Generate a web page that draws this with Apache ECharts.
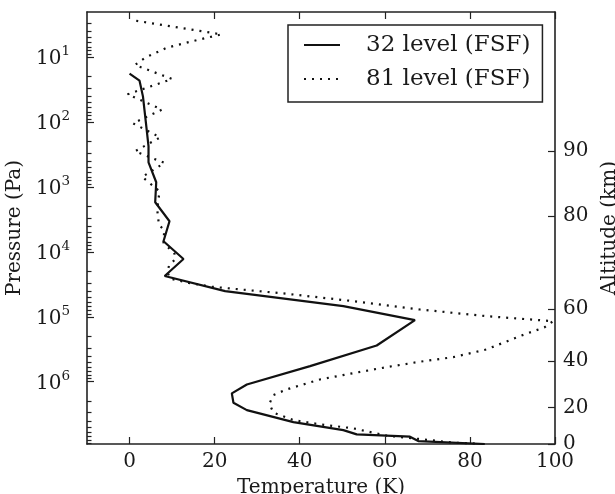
<!DOCTYPE html>
<html>
<head>
<meta charset="utf-8">
<script src="https://cdn.jsdelivr.net/npm/echarts@6/dist/echarts.min.js"></script>
<style>html,body{margin:0;padding:0;background:#fff}#c{width:615px;height:494px}</style>
</head>
<body>
<div id="c"></div>
<script>
// ---- data ----
const tempTicks = [0, 20, 40, 60, 80, 100];
const pressureExponents = [1, 2, 3, 4, 5, 6];
const altitudeKm = [0, 20, 40, 60, 80, 90];
const altitudePa = [9.1e6, 2.48e6, 4.82e5, 7.53e4, 2830, 283];
const pTop = 2.03, pBottom = 9.1e6;

const t32 = [0, 2.35, 3.15, 3.85, 4.46, 4.46, 6.27, 6.03, 9.39, 7.98, 12.68, 8.26, 22.47, 50.25, 67.08, 58.09, 42.43, 27.57, 24.04, 24.42, 27.57, 38.51, 50.25, 53.39, 65.91, 67.86, 83.5];
const p32 = [18.1, 23.2, 40.4, 103.5, 237, 419, 849, 1726, 3381, 6871, 12910, 23550, 40360, 68710, 112700, 276700, 575400, 1102000, 1514000, 2104000, 2735000, 4188000, 5559000, 6471000, 7015000, 8204000, 9100000];

const t81 = [1.57, 21.6, 15.97, 8.78, 3.62, 1.27, 10.03, -0.47, 7.61, 0.8, 7.21, 1.27, 8.22, 2.98, 7.04, 6.5, 6.9, 8.15, 7.98, 10.57, 10.73, 9.39, 8.85, 9.56, 13.85, 19.35, 36.96, 52.59, 68.26, 83.92, 99.55, 97.6, 91.74, 83.92, 76.07, 68.26, 60.44, 52.59, 44.78, 36.96, 33.81, 32.87, 33.81, 38.51, 44.78, 52.59, 60.44, 66.68, 76.07, 82.3];
const p81 = [2.77, 4.49, 5.47, 7.19, 10.3, 13.3, 21.8, 37.6, 64.7, 105, 173, 283, 428, 701, 1170, 2230, 3800, 4700, 7240, 10740, 13120, 15670, 20090, 26000, 30000, 34510, 44260, 57540, 77270, 97950, 117000, 144500, 198600, 318400, 418800, 492000, 595700, 738000, 922600, 1312000, 1607000, 2178000, 3000000, 3899000, 4539000, 5224000, 6776000, 7447000, 8670000, 8995000];

const seriesNames = ['32 level (FSF)', '81 level (FSF)'];

// ---- build ----
const lg = Math.log10;
const yMin = lg(pTop), yMax = lg(pBottom);
const minorVals = [];
for (let n = 0; n <= 6; n++) for (let k = 2; k <= 9; k++) {
  const v = lg(k * Math.pow(10, n));
  if (v >= yMin && v <= yMax) minorVals.push(v);
}
const altVals = altitudePa.map(p => lg(p));
const FONT = 'DejaVu Serif';
const FS = 20;
const LFS = 23;
const TXT = '#1a1a1a';
const AX = { lineStyle: { color: '#222', width: 1.6 } };
const TK = { color: '#222', width: 1.2 };
const GRID = { left: 87, right: 60, top: 12, bottom: 50, containLabel: false, outerBoundsMode: 'none' };

const option = {
  animation: false,
  textStyle: { fontFamily: FONT, color: TXT },
  grid: [ { ...GRID }, { ...GRID } ],
  legend: {
    left: 288, top: 25, orient: 'vertical',
    borderColor: '#222', borderWidth: 1.5, borderRadius: 0,
    padding: [8, 12, 11, 15],
    itemWidth: 36, itemHeight: 24, itemGap: 10,
    itemStyle: { opacity: 0 },
    textStyle: { fontFamily: FONT, fontSize: LFS, lineHeight: 24, color: TXT, padding: [0, 0, 0, 21] },
    data: seriesNames
  },
  xAxis: [
    {
      type: 'value', gridIndex: 0, min: -10, max: 100, position: 'bottom',
      name: 'Temperature (K)', nameLocation: 'middle', nameGap: 34,
      nameTextStyle: { fontFamily: FONT, fontSize: FS, color: TXT },
      axisLine: { show: true, onZero: false, ...AX },
      splitLine: { show: false },
      axisTick: { show: true, inside: true, length: 7, customValues: tempTicks, lineStyle: TK },
      axisLabel: { customValues: tempTicks, fontFamily: FONT, fontSize: FS, color: TXT, margin: 8 }
    },
    {
      type: 'value', gridIndex: 0, min: -10, max: 100, position: 'top',
      axisLine: { show: true, onZero: false, ...AX },
      splitLine: { show: false },
      axisTick: { show: true, inside: true, length: 7, customValues: tempTicks, lineStyle: TK },
      axisLabel: { show: false }
    },
    {
      type: 'value', gridIndex: 1, min: -10, max: 100, position: 'bottom',
      axisLine: { show: false, onZero: false }, axisTick: { show: false },
      axisLabel: { show: false }, splitLine: { show: false }
    }
  ],
  yAxis: [
    {
      type: 'value', gridIndex: 0, inverse: true, min: yMin, max: yMax, position: 'left',
      name: 'Pressure (Pa)', nameLocation: 'middle', nameGap: 51, nameRotate: 90,
      nameTextStyle: { fontFamily: FONT, fontSize: FS, color: TXT },
      axisLine: { show: true, onZero: false, ...AX },
      splitLine: { show: false },
      axisTick: { show: true, inside: true, length: 7, customValues: pressureExponents, lineStyle: TK },
      axisLabel: {
        customValues: pressureExponents, margin: 17, fontFamily: FONT, color: TXT,
        formatter: v => '{b|10}{s|' + Math.round(v) + '}',
        rich: {
          b: { fontFamily: FONT, fontSize: FS, color: TXT, lineHeight: 24, verticalAlign: 'bottom' },
          s: { fontFamily: FONT, fontSize: 13.5, color: TXT, lineHeight: 15, verticalAlign: 'top' }
        }
      }
    },
    {
      type: 'value', gridIndex: 0, inverse: true, min: yMin, max: yMax, position: 'right',
      name: 'Altitude (km)', nameLocation: 'middle', nameGap: 43, nameRotate: 90,
      nameTextStyle: { fontFamily: FONT, fontSize: FS, color: TXT },
      axisLine: { show: true, onZero: false, ...AX },
      splitLine: { show: false },
      axisTick: { show: true, inside: true, length: 7, customValues: altVals, lineStyle: TK },
      axisLabel: {
        customValues: altVals, margin: 8, fontFamily: FONT, fontSize: FS, color: TXT,
        formatter: v => {
          let best = 0;
          altVals.forEach((a, i) => { if (Math.abs(a - v) < Math.abs(altVals[best] - v)) best = i; });
          return String(altitudeKm[best]);
        }
      }
    },
    {
      type: 'value', gridIndex: 1, inverse: true, min: yMin, max: yMax, position: 'left',
      axisLine: { show: false, onZero: false },
      splitLine: { show: false },
      axisTick: { show: true, inside: true, length: 4.5, customValues: minorVals, lineStyle: TK },
      axisLabel: { show: false }
    }
  ],
  series: [
    {
      name: seriesNames[0], type: 'line', xAxisIndex: 0, yAxisIndex: 0,
      showSymbol: false, symbol: 'none',
      lineStyle: { color: '#111', width: 2.2 },
      itemStyle: { color: '#111' },
      data: t32.map((t, i) => [t, lg(p32[i])])
    },
    {
      name: seriesNames[1], type: 'line', xAxisIndex: 0, yAxisIndex: 0,
      showSymbol: false, symbol: 'none',
      lineStyle: { color: '#111', width: 2.2, type: [2, 6] },
      itemStyle: { color: '#111' },
      data: t81.map((t, i) => [t, lg(p81[i])])
    }
  ]
};
const chart = echarts.init(document.getElementById('c'), null, { renderer: 'canvas' });
chart.setOption(option);
</script>
</body>
</html>
